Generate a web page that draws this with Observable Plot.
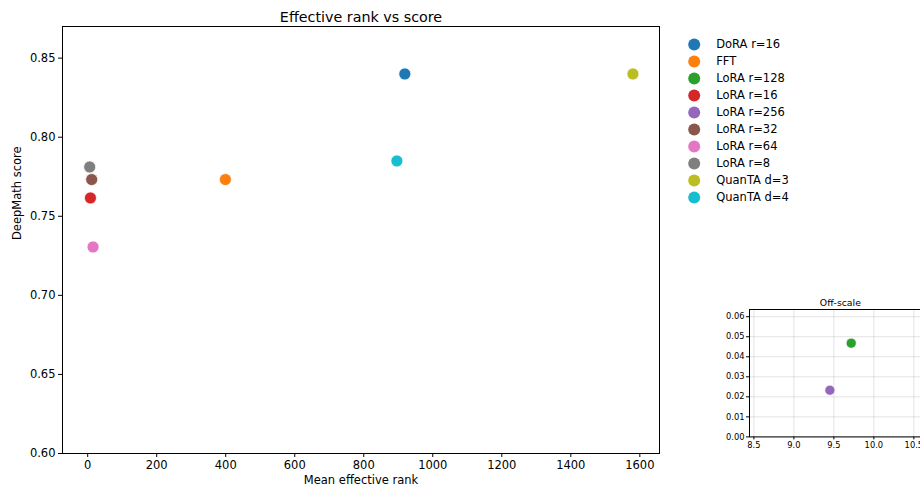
<!DOCTYPE html>
<html>
<head>
<meta charset="utf-8">
<script src="https://cdn.jsdelivr.net/npm/d3@7"></script>
<script src="https://cdn.jsdelivr.net/npm/@observablehq/plot@0.6"></script>
<style>
  html, body { margin: 0; padding: 0; background: white; }
  #wrap { position: relative; width: 920px; height: 488px; overflow: hidden; background: white; font-family: "DejaVu Sans", sans-serif; }
  #wrap > div, #wrap > svg { position: absolute; }
</style>
</head>
<body>
<div id="wrap"></div>
<script>
// ---- data ----
const methods = ["DoRA r=16","FFT","LoRA r=128","LoRA r=16","LoRA r=256","LoRA r=32","LoRA r=64","LoRA r=8","QuanTA d=3","QuanTA d=4"];
const effRank = [919, 399, 9.717, 8, 9.45, 11.6, 15.5, 5.8, 1580, 896];
const score   = [0.840, 0.7732, 0.0468, 0.7616, 0.0233, 0.7732, 0.7306, 0.7812, 0.840, 0.785];
const offScale = ["LoRA r=128","LoRA r=256"];
const palette = ["#1f77b4","#ff7f0e","#2ca02c","#d62728","#9467bd","#8c564b","#e377c2","#7f7f7f","#bcbd22","#17becf"];
const xTicks = [0, 200, 400, 600, 800, 1000, 1200, 1400, 1600];
const yTicks = [0.60, 0.65, 0.70, 0.75, 0.80, 0.85];
const insetXTicks = [8.5, 9.0, 9.5, 10.0, 10.5];
const insetYTicks = [0.00, 0.01, 0.02, 0.03, 0.04, 0.05, 0.06];
const titleText = "Effective rank vs score";
const xLabel = "Mean effective rank";
const yLabel = "DeepMath score";
const insetTitle = "Off-scale";

const rows = methods.map((m, i) => ({method: m, rank: effRank[i], score: score[i]}));
const mainRows = rows.filter(d => !offScale.includes(d.method));
const insetRows = rows.filter(d => offScale.includes(d.method));
const colorScale = {domain: methods, range: palette};
const font = "DejaVu Sans, sans-serif";
const wrap = document.getElementById("wrap");

// ---- main chart ----
const main = Plot.plot({
  width: 920, height: 488,
  marginLeft: 62, marginRight: 261, marginTop: 26, marginBottom: 35,
  style: {fontFamily: font, fontSize: "11.5px", color: "black", background: "transparent", overflow: "visible"},
  x: {domain: [-73, 1657]},
  y: {domain: [0.6, 0.87]},
  color: colorScale,
  marks: [
    Plot.axisX({ticks: xTicks, tickSize: 4, tickPadding: 3, label: null, tickFormat: d3.format("d"), fontSize: 11.5, stroke: "black"}),
    Plot.axisY({ticks: yTicks, tickSize: 4, tickPadding: 3, label: null, tickFormat: d3.format(".2f"), fontSize: 11.5, stroke: "black"}),
    Plot.frame({stroke: "black", strokeWidth: 1}),
    Plot.dot(mainRows, {x: "rank", y: "score", fill: "method", r: 6, stroke: "white", strokeWidth: 0.7}),
    Plot.text([titleText], {text: d => d, frameAnchor: "top", dy: -15, fontSize: 14.3, fill: "black"}),
    Plot.text([xLabel], {text: d => d, frameAnchor: "bottom", dy: 30, fontSize: 11.5, fill: "black"}),
    Plot.text([yLabel], {text: d => d, frameAnchor: "left", dx: -45, rotate: -90, fontSize: 11.5, fill: "black"})
  ]
});
main.style.left = "0px"; main.style.top = "0px";
wrap.appendChild(main);

// ---- legend ----
const legend = Plot.plot({
  width: 160, height: 220,
  margin: 0,
  style: {fontFamily: font, fontSize: "11.5px", color: "black", background: "transparent", overflow: "visible"},
  y: {type: "point", domain: methods, range: [42, 198.7], padding: 0, axis: null},
  color: colorScale,
  marks: [
    Plot.dot(methods, {y: d => d, fill: d => d, r: 6, frameAnchor: "left", dx: 13.7}),
    Plot.text(methods, {y: d => d, text: d => d, frameAnchor: "left", dx: 35.7, textAnchor: "start", fill: "black", fontSize: 11.5})
  ]
});
legend.style.left = "680px"; legend.style.top = "0px";
wrap.appendChild(legend);

// ---- inset ----
const inset = Plot.plot({
  width: 222, height: 168,
  marginLeft: 30, marginRight: 10.3, marginTop: 20, marginBottom: 20.6,
  style: {fontFamily: font, fontSize: "8.3px", color: "black", background: "transparent", overflow: "visible"},
  x: {domain: [8.445, 10.717]},
  y: {domain: [0, 0.0636]},
  color: colorScale,
  marks: [
    Plot.gridX({ticks: insetXTicks, stroke: "#b0b0b0", strokeOpacity: 0.35}),
    Plot.gridY({ticks: insetYTicks, stroke: "#b0b0b0", strokeOpacity: 0.35}),
    Plot.axisX({ticks: insetXTicks, tickSize: 3, tickPadding: 2, label: null, tickFormat: d3.format(".1f"), fontSize: 8.3, stroke: "black"}),
    Plot.axisY({ticks: insetYTicks, tickSize: 3, tickPadding: 2, label: null, tickFormat: d3.format(".2f"), fontSize: 8.3, stroke: "black"}),
    Plot.frame({stroke: "black", strokeWidth: 1}),
    Plot.dot(insetRows, {x: "rank", y: "score", fill: "method", r: 5, stroke: "white", strokeWidth: 0.6}),
    Plot.text([insetTitle], {text: d => d, frameAnchor: "top", dy: -10, fontSize: 9.3, fill: "black"})
  ]
});
inset.style.left = "719.3px"; inset.style.top = "289.3px";
wrap.appendChild(inset);
</script>
</body>
</html>
